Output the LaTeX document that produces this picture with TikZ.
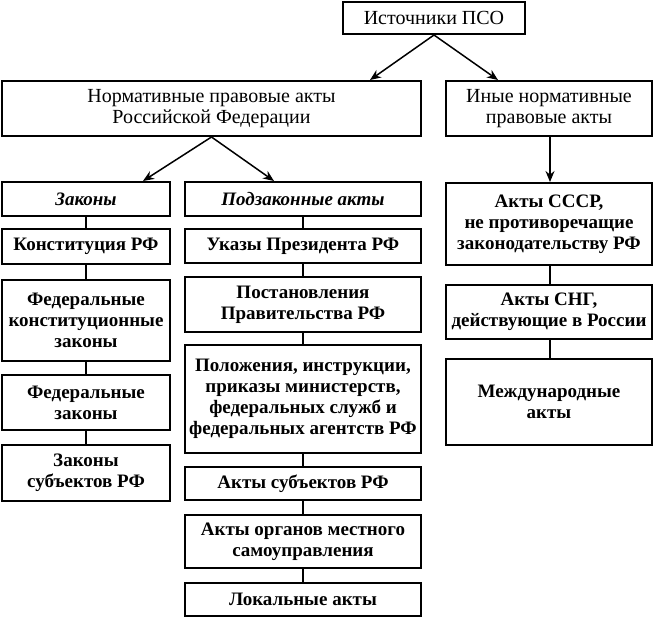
\documentclass[tikz,border=0pt]{standalone}
\usepackage{fontspec}
\setmainfont{Liberation Serif}
\usetikzlibrary{arrows.meta}
\tikzset{
  box/.style={draw, line width=2pt, rectangle, inner sep=0pt, align=center, font=\fontsize{20}{21}\selectfont},
  boldbox/.style={box, font=\fontsize{19}{21}\selectfont\bfseries},
  ibox/.style={box, font=\fontsize{19}{21}\selectfont\bfseries\itshape},
  arr/.style={line width=1.5pt, -{Stealth[length=11pt,width=9pt]}},
  ln/.style={line width=1.8pt}
}
\newcommand\bx[7]{\node[#1, minimum width={(#4-#2)*1pt}, minimum height={(#5-#3)*1pt}] (#7) at ({(#2+#4)/2},{(#3+#5)/2}) {#6};}
\begin{document}
\begin{tikzpicture}[x=1pt,y=-1pt]
\useasboundingbox (0,0) rectangle (654,618);
\bx{box}{343}{2}{525}{34}{Источники ПСО}{top}
\bx{box}{2}{81}{421}{136}{Нормативные правовые акты\\Российской Федерации}{npa}
\bx{box}{446}{81}{652}{136}{Иные нормативные\\правовые акты}{inye}
\bx{ibox}{2}{182}{170}{216}{Законы}{zak}
\bx{ibox}{185}{182}{421}{216}{Подзаконные акты}{pod}
\bx{boldbox}{2}{229}{170}{264}{Конституция РФ}{konst}
\bx{boldbox}{2}{280}{170}{361}{Федеральные\\конституционные\\законы}{fkz}
\bx{boldbox}{2}{375}{170}{430}{Федеральные\\законы}{fz}
\bx{boldbox}{2}{445}{170}{501}{Законы\\субъектов РФ}{zs}
\bx{boldbox}{185}{229}{421}{263}{Указы Президента РФ}{ukaz}
\bx{boldbox}{185}{277}{421}{332}{Постановления\\Правительства РФ}{post}
\bx{boldbox}{185}{345}{421}{453}{Положения, инструкции,\\приказы министерств,\\федеральных служб и\\федеральных агентств РФ}{pol}
\bx{boldbox}{185}{467}{421}{500}{Акты субъектов РФ}{aks}
\bx{boldbox}{185}{515}{421}{568}{Акты органов местного\\самоуправления}{aom}
\bx{boldbox}{185}{583}{421}{616}{Локальные акты}{lok}
\bx{boldbox}{446}{183}{652}{265}{Акты СССР,\\не противоречащие\\законодательству РФ}{sssr}
\bx{boldbox}{446}{285}{652}{339}{Акты СНГ,\\действующие в России}{sng}
\bx{boldbox}{446}{359}{652}{445}{Международные\\акты}{mezh}
\draw[arr] (top.south) -- ([xshift=158.5pt]npa.north);
\draw[arr] (top.south) -- ([xshift=-51pt]inye.north);
\draw[arr] (npa.south) -- ([xshift=57pt]zak.north);
\draw[arr] (npa.south) -- ([xshift=-29pt]pod.north);
\draw[arr] ([xshift=1pt]inye.south) -- ([xshift=1pt]sssr.north);
\draw[ln] (zak) -- (konst);
\draw[ln] (konst) -- (fkz);
\draw[ln] (fkz) -- (fz);
\draw[ln] (fz) -- (zs);
\draw[ln] (pod) -- (ukaz);
\draw[ln] (ukaz) -- (post);
\draw[ln] (post) -- (pol);
\draw[ln] (pol) -- (aks);
\draw[ln] (aks) -- (aom);
\draw[ln] (aom) -- (lok);
\draw[ln] ([xshift=1pt]sssr.south) -- ([xshift=1pt]sng.north);
\draw[ln] ([xshift=1pt]sng.south) -- ([xshift=1pt]mezh.north);
\end{tikzpicture}
\end{document}
